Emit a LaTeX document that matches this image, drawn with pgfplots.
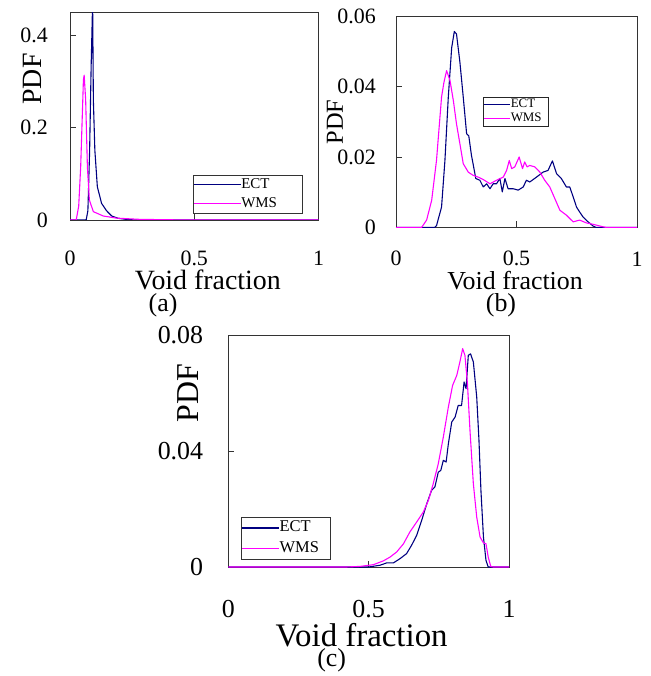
\documentclass[border=0pt]{standalone}
\usepackage{fontspec}
\setmainfont{Liberation Serif}
\usepackage{pgfplots}
\pgfplotsset{compat=1.18}
\definecolor{ect}{RGB}{0,0,128}
\definecolor{wms}{RGB}{255,0,255}

\pgfplotsset{
  pdfpanel/.style={
    scale only axis, xmin=0, xmax=1, ymin=0,
    xtick={0,0.5,1}, xticklabels={0,0.5,1},
    scaled ticks=false,
    tick align=inside, xtick pos=bottom, ytick pos=left,
    major tick length=6bp,
    axis line style={black!80, line width=0.8pt},
    major tick style={black!80, line width=0.8pt},
    legend cell align=left,
  },
  ectline/.style={ect, line width=1.1pt, line join=round},
  wmsline/.style={wms, line width=1.1pt, line join=round},
}

\begin{document}
\begin{tikzpicture}
\useasboundingbox (0,0) rectangle (651bp,676bp);

% (a)
\begin{axis}[pdfpanel,
  at={(70bp,456bp)}, anchor=south west,
  width=248.5bp, height=207.7bp, ymax=0.449,
  ytick={0,0.2,0.4}, yticklabels={0,0.2,0.4},
  ticklabel style={font=\fontsize{22}{22}\selectfont},
  xticklabel style={anchor=center, yshift=-38bp},
  yticklabel style={anchor=east, inner sep=0pt, xshift=-22bp},
  xlabel={Void fraction},
  xlabel style={font=\fontsize{28}{30}\selectfont, inner sep=0pt, at={(axis description cs:0.555,-0.289)}, anchor=center},
  ylabel={PDF},
  ylabel style={font=\fontsize{28}{30}\selectfont, inner sep=0pt, at={(axis description cs:-0.153,0.679)}, anchor=center},
  legend image code/.code={\path (0bp,0bp) -- (46.7bp,0bp); \draw[#1, line width=1.1pt] (24.7bp,0bp) -- (46.7bp,0bp);},
  legend style={at={(0.496,0.217)}, anchor=north west, draw=black!80, line width=0.6pt,
    inner xsep=0pt, inner ysep=2bp, row sep=4bp, column sep=0pt,
    font=\fontsize{15}{15}\selectfont,
    nodes={inner sep=0pt, text height=11bp, text depth=4bp, text width=61bp, align=left}},
]
\addplot[ectline] coordinates {
 (0,0) (0.065,0) (0.072,0.02) (0.079,0.15) (0.085,0.33) (0.091,0.47) (0.094,0.26)
 (0.1,0.151) (0.11,0.072) (0.127,0.036) (0.147,0.02) (0.168,0.0086) (0.194,0.0036)
 (0.23,0.001) (0.27,0) (1,0)
};
\addlegendentry{ECT}
\addplot[wmsline] coordinates {
 (0,0) (0.025,0) (0.035,0.03) (0.043,0.115) (0.054,0.303) (0.057,0.313) (0.063,0.26)
 (0.07,0.115) (0.078,0.043) (0.094,0.018) (0.134,0.0086) (0.188,0.004) (0.28,0.0014)
 (0.4,0.0005) (0.5,0) (1,0)
};
\addlegendentry{WMS}
\end{axis}

% (b)
\begin{axis}[pdfpanel,
  at={(396bp,448.5bp)}, anchor=south west,
  width=241bp, height=211.5bp, ymax=0.06,
  ytick={0,0.02,0.04,0.06}, yticklabels={0,0.02,0.04,0.06},
  ticklabel style={font=\fontsize{22}{22}\selectfont},
  xticklabel style={anchor=center, yshift=-31.3bp},
  yticklabel style={anchor=east, inner sep=0pt, xshift=-20bp},
  xlabel={Void fraction},
  xlabel style={font=\fontsize{26}{28}\selectfont, inner sep=0pt, at={(axis description cs:0.494,-0.253)}, anchor=center},
  ylabel={PDF},
  ylabel style={font=\fontsize{24.5}{28}\selectfont, inner sep=0pt, at={(axis description cs:-0.254,0.499)}, anchor=center},
  legend image code/.code={\path (0bp,0bp) -- (26.6bp,0bp); \draw[#1, line width=1.1pt] (7.3bp,0bp) -- (26.6bp,0bp);},
  legend style={at={(0.36,0.618)}, anchor=north west, draw=black!85, line width=0.6pt,
    inner xsep=0pt, inner ysep=0.8bp, row sep=1.3bp, column sep=0pt,
    font=\fontsize{13}{13}\selectfont,
    nodes={inner sep=0pt, text height=9.5bp, text depth=3.5bp, text width=37.4bp, align=left}},
]
\addplot[ectline] coordinates {
 (0,0) (0.16,0) (0.168,0.0005) (0.189,0.0058) (0.203,0.019) (0.217,0.037) (0.231,0.051)
 (0.242,0.0556) (0.251,0.0549) (0.265,0.047) (0.279,0.037) (0.293,0.0266) (0.302,0.026)
 (0.313,0.0205) (0.32,0.018) (0.331,0.0139) (0.348,0.0134) (0.362,0.0115) (0.376,0.0124)
 (0.39,0.011) (0.403,0.0124) (0.417,0.0124) (0.431,0.0139) (0.441,0.0101) (0.452,0.0139)
 (0.465,0.011) (0.486,0.011) (0.507,0.0106) (0.528,0.0115) (0.541,0.0134) (0.555,0.0129)
 (0.583,0.0143) (0.61,0.0157) (0.631,0.0162) (0.649,0.0189) (0.666,0.0153) (0.686,0.0139)
 (0.707,0.0115) (0.721,0.0115) (0.735,0.0087) (0.749,0.0058) (0.762,0.0044) (0.776,0.003)
 (0.797,0.0016) (0.818,0.0004) (0.831,0) (1,0)
};
\addlegendentry{ECT}
\addplot[wmsline] coordinates {
 (0,0) (0.106,0) (0.127,0.0021) (0.148,0.0077) (0.168,0.019) (0.189,0.037) (0.199,0.0412)
 (0.21,0.0445) (0.224,0.0417) (0.238,0.036) (0.251,0.0294) (0.265,0.0238) (0.279,0.0181)
 (0.3,0.0157) (0.32,0.0148) (0.341,0.0143) (0.362,0.0136) (0.39,0.0124) (0.417,0.0134)
 (0.445,0.0143) (0.459,0.0162) (0.47,0.019) (0.48,0.0167) (0.493,0.0172) (0.511,0.02)
 (0.525,0.0167) (0.534,0.0186) (0.544,0.0172) (0.555,0.0176) (0.576,0.0172) (0.597,0.0157)
 (0.617,0.0134) (0.638,0.0115) (0.659,0.0082) (0.68,0.0049) (0.707,0.0035) (0.735,0.0016)
 (0.762,0.0021) (0.79,0.0013) (0.818,0.0009) (0.859,0.0002) (0.873,0) (1,0)
};
\addlegendentry{WMS}
\end{axis}

% (c)
\begin{axis}[pdfpanel,
  at={(228.3bp,109bp)}, anchor=south west,
  width=280.7bp, height=232bp, ymax=0.08,
  ytick={0,0.04,0.08}, yticklabels={0,0.04,0.08},
  ticklabel style={font=\fontsize{26}{26}\selectfont},
  xticklabel style={anchor=center, yshift=-42bp},
  yticklabel style={anchor=east, inner sep=0pt, xshift=-25bp},
  xlabel={Void fraction},
  xlabel style={font=\fontsize{33}{34}\selectfont, inner sep=0pt, at={(axis description cs:0.475,-0.293)}, anchor=center},
  ylabel={PDF},
  ylabel style={font=\fontsize{32}{34}\selectfont, inner sep=0pt, at={(axis description cs:-0.145,0.75)}, anchor=center},
  legend image code/.code={\path (0bp,0bp) -- (37.3bp,0bp); \draw[#1, line width=1.1pt] (13bp,0bp) -- (37.3bp,0bp);},
  legend style={at={(0.045,0.217)}, anchor=north west, draw=black!80, line width=0.6pt,
    inner xsep=0pt, inner ysep=2.75bp, row sep=4.1bp, column sep=0pt,
    font=\fontsize{16.5}{16.5}\selectfont,
    nodes={inner sep=0pt, text height=12bp, text depth=4.5bp, text width=50.7bp, align=left}},
]
\addplot[ectline] coordinates {
 (0,0) (0.5,0) (0.54,0.0006) (0.564,0.0014) (0.588,0.0014) (0.612,0.0029) (0.635,0.0046)
 (0.653,0.0075) (0.671,0.0109) (0.689,0.0161) (0.707,0.0218) (0.724,0.0264) (0.736,0.0276)
 (0.748,0.0327) (0.757,0.0333) (0.766,0.0368) (0.776,0.0362) (0.784,0.0425) (0.796,0.05)
 (0.808,0.0517) (0.819,0.0557) (0.831,0.0557) (0.84,0.0638) (0.847,0.0615) (0.855,0.073)
 (0.863,0.0735) (0.873,0.0707) (0.885,0.0586) (0.893,0.0437) (0.9,0.0264) (0.909,0.0103)
 (0.918,0.0023) (0.926,0) (1,0)
};
\addlegendentry{ECT}
\addplot[wmsline] coordinates {
 (0,0) (0.42,0) (0.469,0.0002) (0.517,0.0008) (0.552,0.0021) (0.576,0.0034) (0.6,0.0052)
 (0.624,0.008) (0.647,0.0121) (0.671,0.0155) (0.695,0.019) (0.713,0.023) (0.73,0.0287)
 (0.748,0.0356) (0.766,0.0448) (0.784,0.0552) (0.799,0.0626) (0.814,0.0661) (0.825,0.0707)
 (0.835,0.0753) (0.843,0.073) (0.852,0.0632) (0.861,0.0471) (0.873,0.0287) (0.885,0.0172)
 (0.897,0.0103) (0.909,0.0083) (0.918,0.008) (0.926,0.0034) (0.935,0.0002) (0.944,0) (1,0)
};
\addlegendentry{WMS}
\end{axis}

\node[font=\fontsize{26}{26}\selectfont, inner sep=0pt] at (163bp,371bp) {(a)};
\node[font=\fontsize{26}{26}\selectfont, inner sep=0pt] at (501bp,371bp) {(b)};
\node[font=\fontsize{26}{26}\selectfont, inner sep=0pt] at (331.7bp,16bp) {(c)};
\end{tikzpicture}
\end{document}
